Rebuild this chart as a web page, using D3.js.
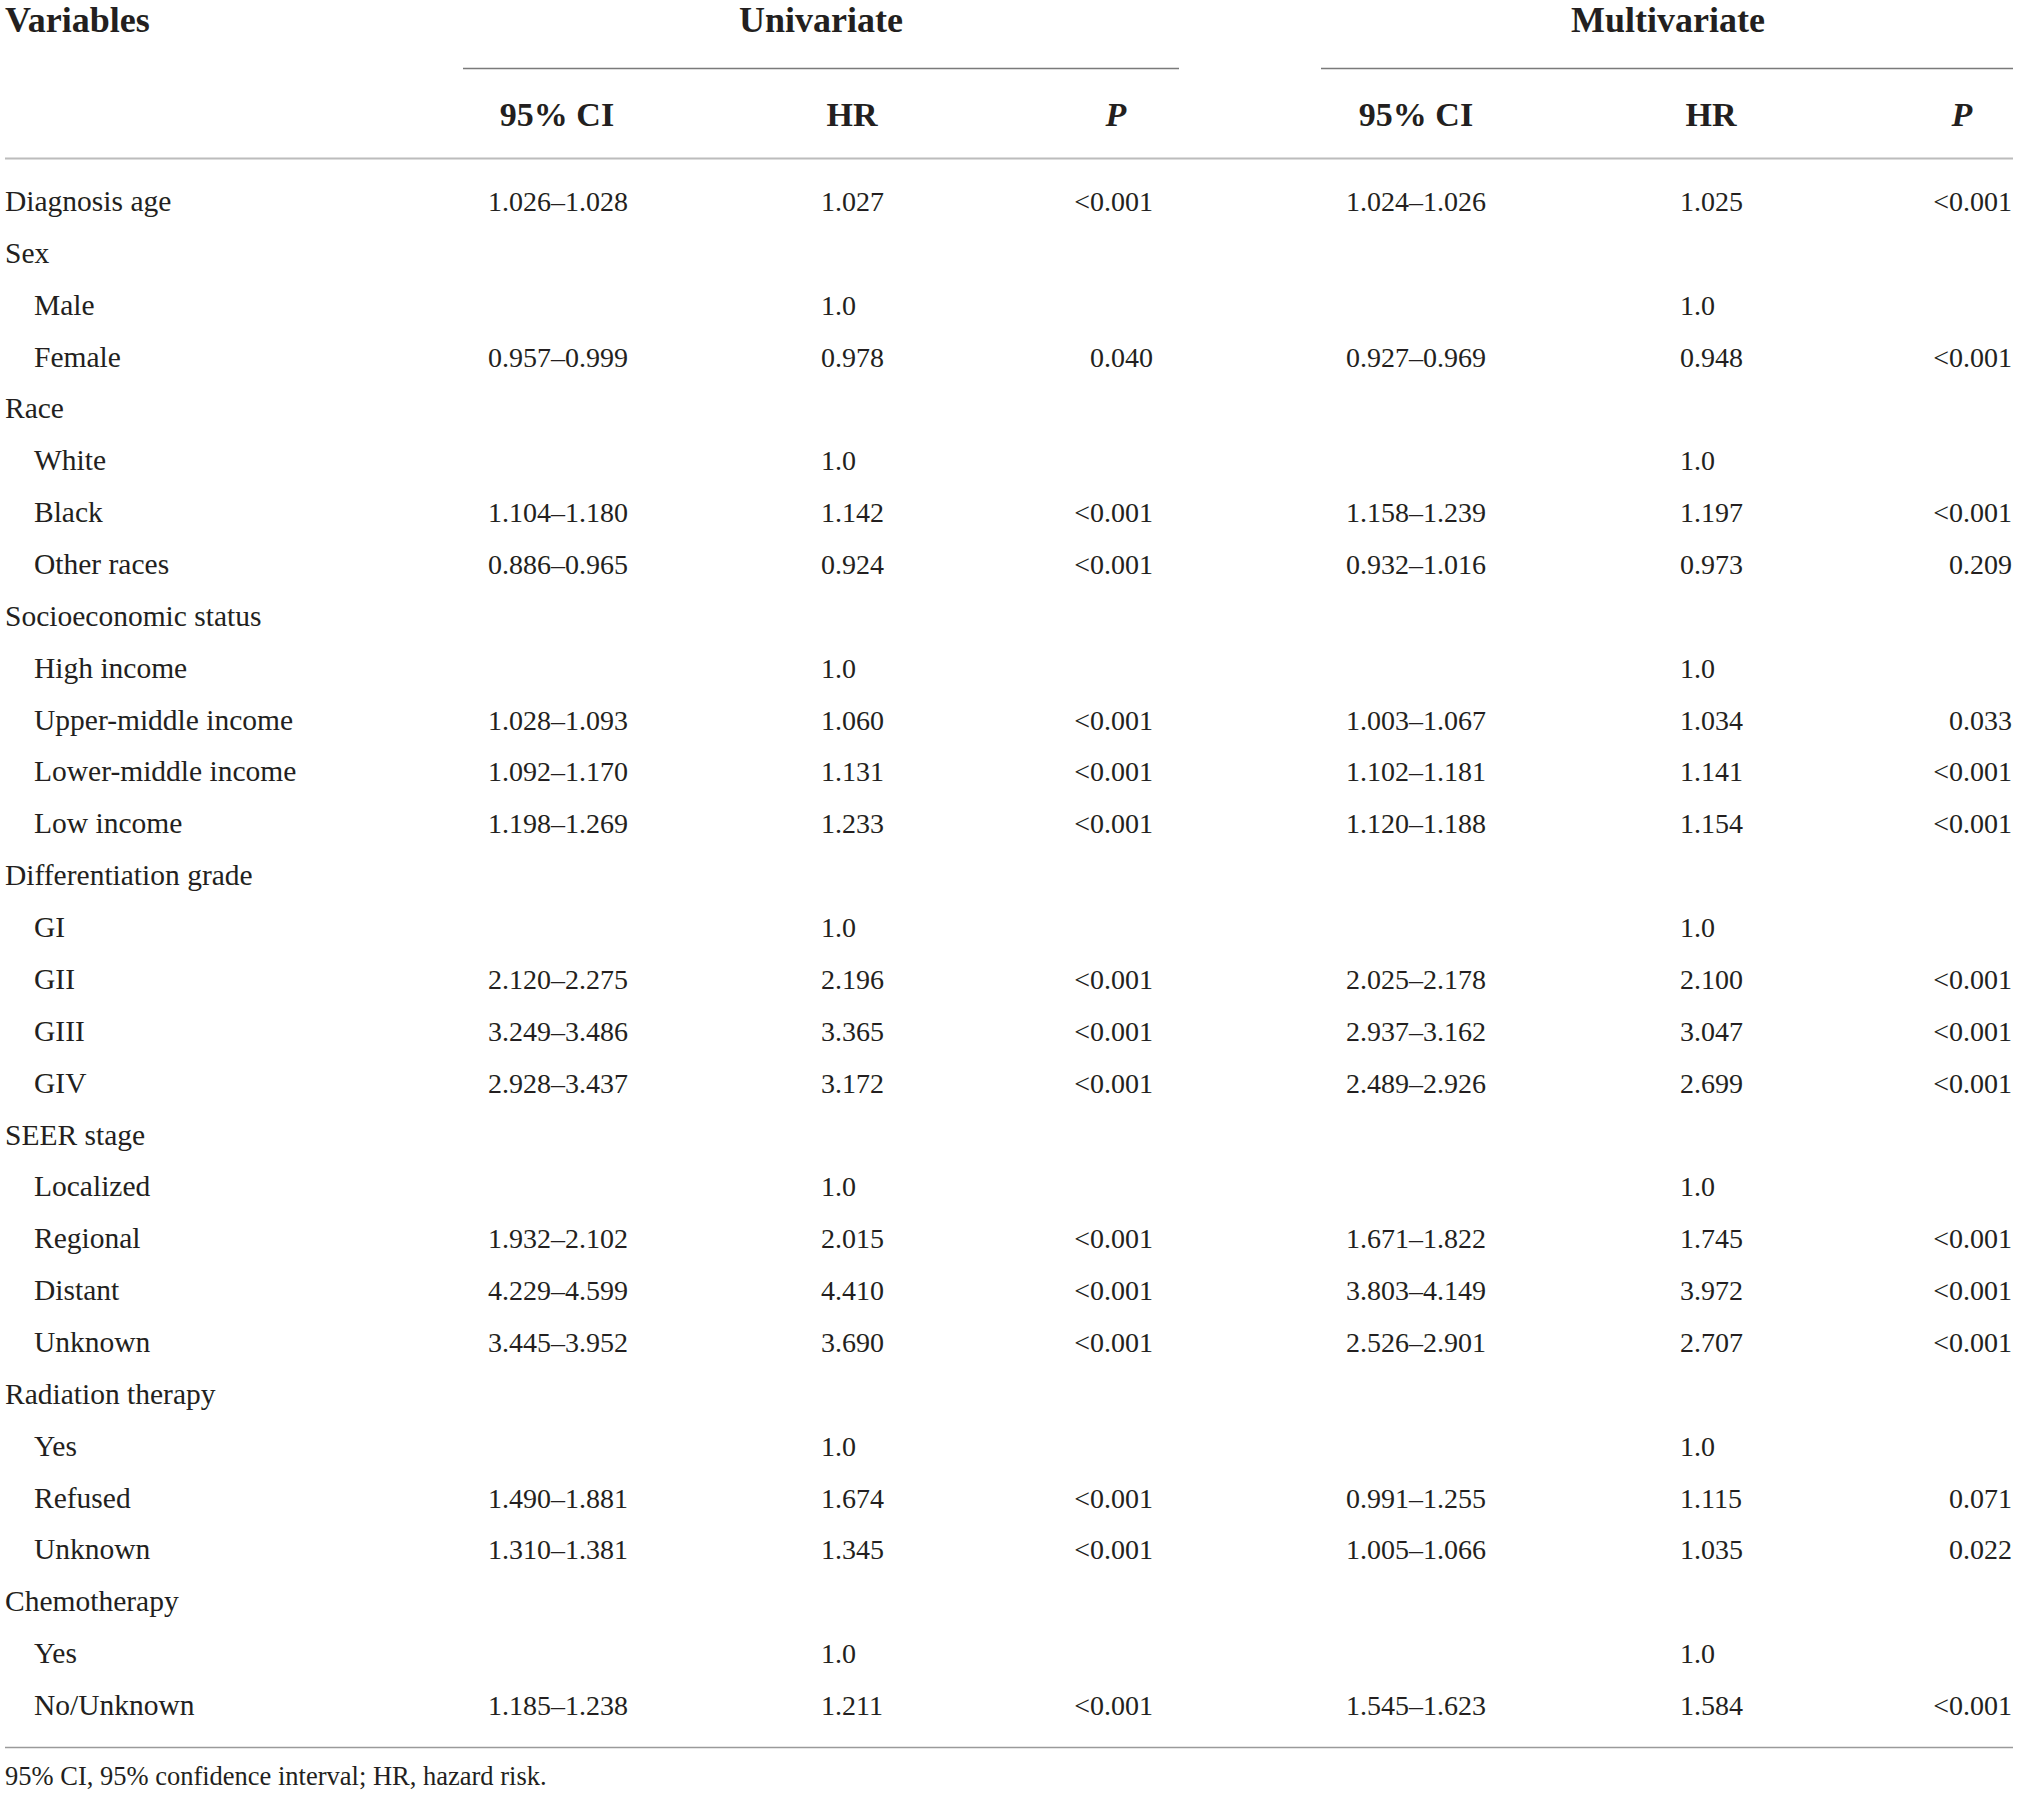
<!DOCTYPE html>
<html>
<head>
<meta charset="utf-8">
<script src="https://cdn.jsdelivr.net/npm/d3@7"></script>
<style>
  html, body { margin: 0; padding: 0; background: #fff; }
  svg text { font-family: "Liberation Serif", "Times New Roman", serif; fill: #231f20; }
  .head { font-weight: bold; font-size: 34px; }
  .top { font-size: 36px; }
  .cell { font-size: 28px; }
  .label { font-size: 29.5px; }
  .note { font-size: 26.5px; }
</style>
</head>
<body>
<div class="table-container"></div>
<script>
// rows of the table, top to bottom
const variables = ['Diagnosis age', 'Sex', 'Male', 'Female', 'Race', 'White', 'Black', 'Other races',
  'Socioeconomic status', 'High income', 'Upper-middle income', 'Lower-middle income', 'Low income',
  'Differentiation grade', 'GI', 'GII', 'GIII', 'GIV', 'SEER stage', 'Localized', 'Regional', 'Distant',
  'Unknown', 'Radiation therapy', 'Yes', 'Refused', 'Unknown', 'Chemotherapy', 'Yes', 'No/Unknown'];

// 1 = sub level (indented)
const level = [0, 0, 1, 1, 0, 1, 1, 1, 0, 1, 1, 1, 1, 0, 1, 1, 1, 1, 0, 1, 1, 1, 1, 0, 1, 1, 1, 0, 1, 1];

const uniCI = ['1.026–1.028', '', '', '0.957–0.999', '', '', '1.104–1.180', '0.886–0.965',
  '', '', '1.028–1.093', '1.092–1.170', '1.198–1.269',
  '', '', '2.120–2.275', '3.249–3.486', '2.928–3.437', '', '', '1.932–2.102', '4.229–4.599',
  '3.445–3.952', '', '', '1.490–1.881', '1.310–1.381', '', '', '1.185–1.238'];
const uniHR = ['1.027', '', '1.0', '0.978', '', '1.0', '1.142', '0.924',
  '', '1.0', '1.060', '1.131', '1.233',
  '', '1.0', '2.196', '3.365', '3.172', '', '1.0', '2.015', '4.410',
  '3.690', '', '1.0', '1.674', '1.345', '', '1.0', '1.211'];
const uniP = ['<0.001', '', '', '0.040', '', '', '<0.001', '<0.001',
  '', '', '<0.001', '<0.001', '<0.001',
  '', '', '<0.001', '<0.001', '<0.001', '', '', '<0.001', '<0.001',
  '<0.001', '', '', '<0.001', '<0.001', '', '', '<0.001'];

const multiCI = ['1.024–1.026', '', '', '0.927–0.969', '', '', '1.158–1.239', '0.932–1.016',
  '', '', '1.003–1.067', '1.102–1.181', '1.120–1.188',
  '', '', '2.025–2.178', '2.937–3.162', '2.489–2.926', '', '', '1.671–1.822', '3.803–4.149',
  '2.526–2.901', '', '', '0.991–1.255', '1.005–1.066', '', '', '1.545–1.623'];
const multiHR = ['1.025', '', '1.0', '0.948', '', '1.0', '1.197', '0.973',
  '', '1.0', '1.034', '1.141', '1.154',
  '', '1.0', '2.100', '3.047', '2.699', '', '1.0', '1.745', '3.972',
  '2.707', '', '1.0', '1.115', '1.035', '', '1.0', '1.584'];
const multiP = ['<0.001', '', '', '<0.001', '', '', '<0.001', '0.209',
  '', '', '0.033', '<0.001', '<0.001',
  '', '', '<0.001', '<0.001', '<0.001', '', '', '<0.001', '<0.001',
  '<0.001', '', '', '0.071', '0.022', '', '', '<0.001'];

const groups = ['Univariate', 'Multivariate'];
const subHeads = ['95% CI', 'HR', 'P'];
const footnote = '95% CI, 95% confidence interval; HR, hazard risk.';

const width = 2019;
const height = 1797;

const svg = d3.select('.table-container')
  .append('svg')
  .attr('width', width)
  .attr('height', height);

// row baselines
const y = d3.scaleLinear()
  .domain([0, variables.length - 1])
  .range([211, 1715]);

// column layout: body x + anchor, header centre
const cols = [
  { values: uniCI, x: 558, anchor: 'middle', hx: 557 },
  { values: uniHR, x: 821, anchor: 'start', hx: 852 },
  { values: uniP, x: 1153, anchor: 'end', hx: 1116 },
  { values: multiCI, x: 1416, anchor: 'middle', hx: 1416 },
  { values: multiHR, x: 1680, anchor: 'start', hx: 1711 },
  { values: multiP, x: 2012, anchor: 'end', hx: 1962 }
];

const spans = [
  { x1: 463, x2: 1179, cx: 821 },
  { x1: 1321, x2: 2013, cx: 1668 }
];

// header
svg.append('text')
  .attr('class', 'head top')
  .attr('x', 5)
  .attr('y', 32)
  .text('Variables');

svg.selectAll('.group')
  .data(groups)
  .enter()
  .append('text')
  .attr('class', 'head top group')
  .attr('x', (d, i) => spans[i].cx)
  .attr('y', 32)
  .attr('text-anchor', 'middle')
  .text(d => d);

svg.selectAll('.span-line')
  .data(spans)
  .enter()
  .append('line')
  .attr('class', 'span-line')
  .attr('x1', d => d.x1)
  .attr('x2', d => d.x2)
  .attr('y1', 68.5)
  .attr('y2', 68.5)
  .attr('stroke', '#7a7a7a')
  .attr('stroke-width', 1.4);

svg.selectAll('.sub')
  .data(cols)
  .enter()
  .append('text')
  .attr('class', 'head sub')
  .attr('x', d => d.hx)
  .attr('y', 126)
  .attr('text-anchor', 'middle')
  .style('font-style', (d, i) => subHeads[i % 3] === 'P' ? 'italic' : 'normal')
  .text((d, i) => subHeads[i % 3]);

svg.append('line')
  .attr('x1', 5)
  .attr('x2', 2013)
  .attr('y1', 158.5)
  .attr('y2', 158.5)
  .attr('stroke', '#bcbcbc')
  .attr('stroke-width', 2.2);

// body
const rows = svg.append('g');

rows.selectAll('.label')
  .data(variables)
  .enter()
  .append('text')
  .attr('class', 'label')
  .attr('x', (d, i) => level[i] ? 34 : 5)
  .attr('y', (d, i) => y(i))
  .text(d => d);

cols.forEach(c => {
  rows.append('g')
    .selectAll('text')
    .data(c.values)
    .enter()
    .append('text')
    .attr('class', 'cell')
    .attr('x', c.x)
    .attr('y', (d, i) => y(i))
    .attr('text-anchor', c.anchor)
    .text(d => d);
});

svg.append('line')
  .attr('x1', 5)
  .attr('x2', 2013)
  .attr('y1', 1747.5)
  .attr('y2', 1747.5)
  .attr('stroke', '#9a9a9a')
  .attr('stroke-width', 1.4);

svg.append('text')
  .attr('class', 'note')
  .attr('x', 5)
  .attr('y', 1785)
  .text(footnote);
</script>
</body>
</html>
